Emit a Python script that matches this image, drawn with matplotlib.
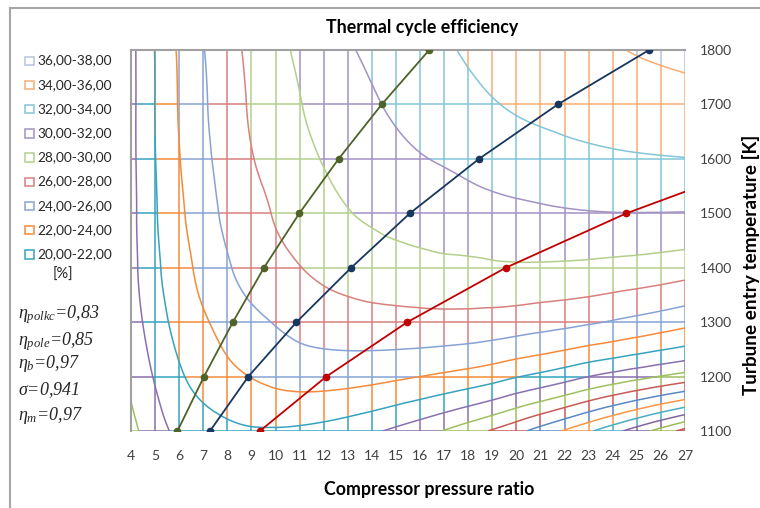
import matplotlib
matplotlib.use("Agg")
import matplotlib.pyplot as plt
import matplotlib.tri as mtri
import numpy as np
from matplotlib.collections import LineCollection
from matplotlib.lines import Line2D
from matplotlib.patches import Rectangle

# grid of the efficiency map
pressure_ratio = np.arange(4, 28)
turbine_temp = np.array([1100, 1200, 1300, 1400, 1500, 1600, 1700, 1800])

# thermal cycle efficiency [%], one row per turbine entry temperature, pressure ratio 4..27
eff_1100 = [17.4, 19.2, 20.4, 21.0, 21.5, 21.8, 21.8, 21.65, 21.35, 20.9, 20.3, 19.6,
            18.8, 17.9, 16.9, 15.8, 14.6, 13.2, 11.8, 10.3, 8.7, 7.0, 5.2, 3.3]
eff_1200 = [18.4, 20.17, 21.72, 22.72, 23.5, 24.05, 24.5, 24.75, 24.8, 24.72, 24.55, 24.3,
            24.0, 23.65, 23.25, 22.75, 22.1, 21.5, 20.8, 20.0, 19.3, 18.6, 17.9, 17.2]
eff_1300 = [19.1, 21.0, 22.65, 23.75, 24.75, 25.55, 26.1, 26.6, 26.9, 27.1, 27.25, 27.33,
            27.38, 27.38, 27.33, 27.2, 27.0, 26.75, 26.5, 26.2, 25.85, 25.45, 25.02, 24.55]
eff_1400 = [19.35, 21.55, 23.25, 24.55, 25.8, 26.7, 27.38, 27.95, 28.45, 28.85, 29.1, 29.25,
            29.4, 29.55, 29.6, 29.72, 29.78, 29.76, 29.7, 29.6, 29.45, 29.3, 29.1, 28.85]
eff_1500 = [19.42, 21.8, 23.65, 25.1, 26.45, 27.35, 28.15, 28.85, 29.45, 29.93, 30.25, 30.6,
            30.88, 31.1, 31.3, 31.47, 31.6, 31.72, 31.83, 31.91, 31.96, 31.97, 31.96, 31.94]
eff_1600 = [19.45, 21.95, 23.93, 25.48, 26.85, 27.9, 28.75, 29.45, 30.1, 30.6, 31.05, 31.5,
            31.89, 32.16, 32.45, 32.75, 33.0, 33.2, 33.42, 33.6, 33.73, 33.83, 33.9, 33.96]
eff_1700 = [19.46, 22.02, 24.12, 25.74, 27.08, 28.22, 29.13, 29.92, 30.63, 31.22, 31.78, 32.3,
            32.75, 33.15, 33.53, 33.89, 34.2, 34.45, 34.65, 34.83, 35.0, 35.1, 35.2, 35.3]
eff_1800 = [19.47, 22.06, 24.25, 25.92, 27.26, 28.45, 29.44, 30.33, 31.09, 31.8, 32.37, 32.88,
            33.35, 33.79, 34.17, 34.49, 34.79, 35.08, 35.36, 35.62, 35.87, 36.1, 36.3, 36.5]
efficiency = np.array([eff_1100, eff_1200, eff_1300, eff_1400,
                       eff_1500, eff_1600, eff_1700, eff_1800])

# marked lines: pressure ratio reached at each turbine entry temperature
green_line_pr = [5.93, 7.03, 8.23, 9.52, 10.99, 12.62, 14.41, 16.38]
navy_line_pr = [7.28, 8.87, 10.87, 13.14, 15.58, 18.45, 21.72, 25.51]
red_line_pr = [9.35, 12.11, 15.47, 19.56, 24.57, 30.7]
red_line_temp = [1100, 1200, 1300, 1400, 1500, 1600]

# 2 % bands 0-2 ... 36-38, Excel style colour cycle
band_edges = np.arange(0, 40, 2)
band_colors = ["#4F81BD", "#C0504D", "#9BBB59", "#8064A2", "#4BACC6", "#F79646",
               "#5A88C6", "#C85A57", "#9FC061", "#8A70AE", "#35A3BE", "#F58B3A",
               "#86A3D6", "#D8807E", "#B4CF8B", "#A392C4", "#82C6D8", "#F9AC72",
               "#B7C2DE"]
legend_bands = [(36, 38), (34, 36), (32, 34), (30, 32), (28, 30),
                (26, 28), (24, 26), (22, 24), (20, 22)]

W, H = 760, 508
plt.rcParams["font.family"] = ["Lato", "DejaVu Sans"]
plt.rcParams["mathtext.fontset"] = "custom"
plt.rcParams["mathtext.it"] = "Liberation Serif:italic"
plt.rcParams["mathtext.rm"] = "Liberation Serif:italic"


def band_color(v):
    return band_colors[int(np.clip(v // 2, 0, len(band_colors) - 1))]


def colored_line(xs, ys, vals):
    """Split a polyline at the band edges and colour each piece by its band."""
    segs, cols = [], []
    for i in range(len(vals) - 1):
        v0, v1 = vals[i], vals[i + 1]
        cuts = sorted((e - v0) / (v1 - v0) for e in band_edges if min(v0, v1) < e < max(v0, v1))
        ts = [0.0] + cuts + [1.0]
        for a, b in zip(ts[:-1], ts[1:]):
            pa = (xs[i] + a * (xs[i + 1] - xs[i]), ys[i] + a * (ys[i + 1] - ys[i]))
            pb = (xs[i] + b * (xs[i + 1] - xs[i]), ys[i] + b * (ys[i + 1] - ys[i]))
            segs.append([pa, pb])
            cols.append(band_color(v0 + 0.5 * (a + b) * (v1 - v0)))
    return segs, cols


# smooth surface through the grid values (like Excel's contour smoothing)
PX, TY = np.meshgrid(pressure_ratio.astype(float), turbine_temp.astype(float))
triang = mtri.Triangulation(PX.ravel(), TY.ravel())
surface = mtri.CubicTriInterpolator(triang, efficiency.ravel(), kind="min_E")
tri_fine, eff_fine = mtri.UniformTriRefiner(triang).refine_field(
    efficiency.ravel(), triinterpolator=surface, subdiv=4)


def surface_along(xs, ys):
    xs = np.clip(xs, 4 + 1e-7, 27 - 1e-7)
    ys = np.clip(ys, 1100 + 1e-5, 1800 - 1e-5)
    return np.asarray(np.ma.filled(surface(xs, ys), np.nan))


fig = plt.figure(figsize=(W / 100, H / 100), dpi=100)
ax = fig.add_axes([131 / W, 1 - 431 / H, (685 - 131) / W, (431 - 50) / H])

# coloured wireframe grid
segs, cols = [], []
for pr in pressure_ratio:
    ys = np.linspace(1100, 1800, 281)
    xs = np.full_like(ys, float(pr))
    s, c = colored_line(xs, ys, surface_along(xs, ys))
    segs += s
    cols += c
for t in turbine_temp:
    xs = np.linspace(4, 27, 461)
    ys = np.full_like(xs, float(t))
    s, c = colored_line(xs, ys, surface_along(xs, ys))
    segs += s
    cols += c
ax.add_collection(LineCollection(segs, colors=cols, linewidths=1.1, zorder=1, capstyle="butt"))

# contour lines, each drawn in the colour of the band below it
levels = band_edges[1:19]
ax.tricontour(tri_fine, eff_fine, levels=levels,
              colors=[band_colors[k] for k in range(len(levels))], linewidths=1.1, zorder=2)

# marked lines
ax.plot(green_line_pr, turbine_temp, color="#4F6228", lw=1.3, marker="o", ms=4.5, zorder=5)
ax.plot(navy_line_pr, turbine_temp, color="#17375E", lw=1.3, marker="o", ms=4.5, zorder=5)
ax.plot(red_line_pr, red_line_temp, color="#C00000", lw=1.3, marker="o", ms=4.5, zorder=5)

ax.set_xlim(4, 27)
ax.set_ylim(1100, 1800)
ax.set_xticks(pressure_ratio)
ax.set_yticks(turbine_temp)
ax.yaxis.tick_right()
ax.tick_params(axis="both", length=0, labelsize=10, colors="#404040")
ax.tick_params(axis="x", pad=14)
ax.tick_params(axis="y", pad=11)
for side in ["right", "bottom"]:
    ax.spines[side].set_visible(False)
for side in ["top", "left"]:
    ax.spines[side].set_color("#A0A0A0")
    ax.spines[side].set_linewidth(1.5)
    ax.spines[side].set_zorder(4)

# titles
fig.text(422 / W, 1 - 28 / H, "Thermal cycle efficiency", ha="center", va="center",
         fontsize=12.8, fontweight="bold")
fig.text(429 / W, 1 - 490 / H, "Compressor pressure ratio", ha="center", va="center",
         fontsize=12.8, fontweight="bold")
fig.text(751 / W, 1 - 265 / H, "Turbune entry temperature [K]", ha="center", va="center",
         rotation=90, fontsize=13.6, fontweight="bold")

# legend of the bands
for k, (lo, hi) in enumerate(legend_bands):
    yc = 60.5 + k * 24.2
    fig.add_artist(Rectangle((25 / W, 1 - (yc + 4.5) / H), 8.5 / W, 8.5 / H, fill=False,
                             edgecolor=band_color(lo + 1), lw=1.1))
    label = f"{lo:.2f}-{hi:.2f}".replace(".", ",")
    fig.text(37 / W, 1 - yc / H, label, ha="left", va="center", fontsize=9.8, color="#262626")
fig.text(63 / W, 1 - 275 / H, "[%]", ha="center", va="center", fontsize=10.5, color="#262626")

# cycle parameters
params = [r"$\eta_{polkc}$=0,83", r"$\eta_{pole}$=0,85", r"$\eta_b$=0,97",
          r"$\sigma$=0,941", r"$\eta_m$=0,97"]
for k, txt in enumerate(params):
    yb = [318, 345, 368, 395, 420][k]
    fig.text(18 / W, 1 - yb / H, txt, ha="left", va="baseline", fontsize=13,
             family="Liberation Serif", style="italic", color="#262626")

# outer chart border
fig.add_artist(Line2D([10 / W, 1], [1 - 8 / H, 1 - 8 / H], color="#A6A6A6", lw=1.5))
fig.add_artist(Line2D([10 / W, 10 / W], [0, 1 - 8 / H], color="#A6A6A6", lw=1.5))

fig.savefig("out.png", dpi=100)
